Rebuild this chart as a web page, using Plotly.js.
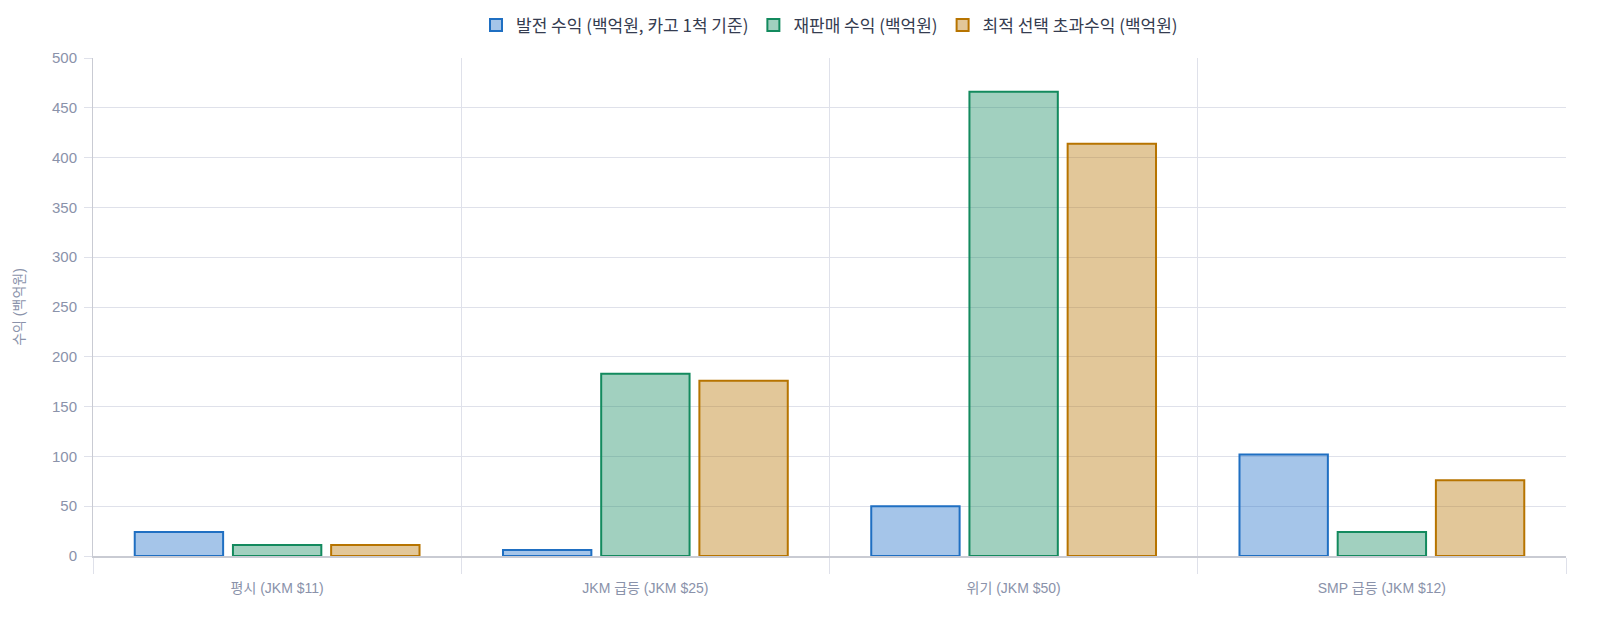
<!DOCTYPE html>
<html>
<head>
<meta charset="utf-8">
<script src="https://cdn.plot.ly/plotly-3.0.1.min.js"></script>
<style>
  html, body { margin: 0; padding: 0; background: #ffffff; }
  #chart { width: 1607px; height: 620px; }
</style>
</head>
<body>
<div id="chart"></div>
<script>
const categories = ['평시 (JKM $11)', 'JKM 급등 (JKM $25)', '위기 (JKM $50)', 'SMP 급등 (JKM $12)'];
const seriesNames = ['발전 수익 (백억원, 카고 1척 기준)', '재판매 수익 (백억원)', '최적 선택 초과수익 (백억원)'];
const powerRevenue = [24, 6, 50, 102];
const resaleRevenue = [11, 183, 466, 24];
const optimalExcess = [11, 176, 414, 76];
const yTicks = [0, 50, 100, 150, 200, 250, 300, 350, 400, 450, 500];

const fills = ['rgba(29,111,200,0.4)', 'rgba(19,138,94,0.4)', 'rgba(183,116,0,0.4)'];
const borders = ['#1f6fc2', '#138a5e', '#b77400'];
const values = [powerRevenue, resaleRevenue, optimalExcess];

const traces = values.map(function (v, i) {
    return {
        x: categories,
        y: v,
        name: seriesNames[i],
        type: 'bar',
        marker: {
            color: fills[i],
            line: { color: borders[i], width: 2 }
        },
        hoverinfo: 'x+y+name'
    };
});

Plotly.newPlot('chart', traces, {
    width: 1607,
    height: 620,
    paper_bgcolor: '#ffffff',
    plot_bgcolor: '#ffffff',
    margin: { l: 93, r: 41, t: 58, b: 64 },
    bargap: 0.2,
    bargroupgap: 0.1,
    font: { family: 'Liberation Sans, Noto Sans CJK KR, sans-serif', color: '#8a92aa', size: 14 },
    showlegend: true,
    legend: {
        orientation: 'h',
        x: 0.5, xanchor: 'center',
        y: 0.988, yanchor: 'top',
        yref: 'container',
        font: { family: 'Noto Sans CJK KR, sans-serif', size: 17, color: '#353c50' },
        itemwidth: 30
    },
    xaxis: {
        type: 'category',
        tickson: 'boundaries',
        showgrid: true,
        gridcolor: '#dfe1ea',
        gridwidth: 1,
        ticks: 'outside',
        ticklen: 16,
        tickcolor: '#dfe1ea',
        ticklabelstandoff: 18,
        showline: true,
        linecolor: '#c9cbd3',
        linewidth: 2,
        tickfont: { size: 14, color: '#8a92aa' },
        fixedrange: true
    },
    yaxis: {
        range: [0, 500],
        tickvals: yTicks,
        showgrid: true,
        gridcolor: '#dfe1ea',
        gridwidth: 1,
        zeroline: false,
        ticks: 'outside',
        ticklen: 8,
        tickcolor: '#dfe1ea',
        ticklabelstandoff: 4,
        showline: true,
        linecolor: '#c9cbd3',
        linewidth: 1,
        tickfont: { size: 15, color: '#8a92aa' },
        title: {
            text: '수익 (백억원)',
            font: { size: 14, color: '#8a92aa' },
            standoff: 24
        },
        fixedrange: true
    }
}, { displayModeBar: false, responsive: false });
</script>
</body>
</html>
